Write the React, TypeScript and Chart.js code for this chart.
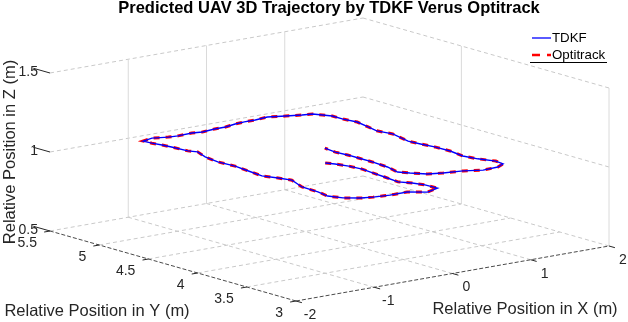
import React, { useEffect, useRef } from "react";
import { Chart, registerables } from "chart.js";

Chart.register(...registerables);

// ---------------- data ----------------
const TITLE = "Predicted UAV 3D Trajectory by TDKF Verus Optitrack";
const X_LABEL = "Relative Position in X (m)";
const Y_LABEL = "Relative Position in Y (m)";
const Z_LABEL = "Relative Position in Z (m)";
const SERIES_NAMES = ["TDKF", "Optitrack"];

const X_TICKS = [-2, -1, 0, 1, 2];
const Y_TICKS = [3, 3.5, 4, 4.5, 5, 5.5];
const Z_TICKS = [0.5, 1, 1.5];
const X_TICK_LABELS = ["-2", "-1", "0", "1", "2"];
const Y_TICK_LABELS = ["3", "3.5", "4", "4.5", "5", "5.5"];
const Z_TICK_LABELS = ["0.5", "1", "1.5"];

// grid lines that MATLAB shows on the right wall (x = max)
const RIGHT_WALL_Y_GRID = [4.5, 3];

const TRAJ_X = [
  -0.13, -0.08, -0.03, -0.01, -0.03, -0.05, -0.08, 0.0, 0.05, 0.06,
  -0.13, -0.29, -0.51, -0.7, -0.83, -0.96, -1.03, -0.99, -0.98, -0.87,
  -0.92, -0.99, -0.96, -0.93, -0.95, -0.91, -0.83, -0.88, -0.9, -0.92,
  -0.95, -0.96, -0.81, -0.65, -0.54, -0.35, -0.24, -0.06, 0.08, 0.24,
  0.37, 0.51, 0.69, 0.86, 1.02, 1.13, 1.18, 1.23, 1.23, 1.26,
  1.21, 1.17, 1.21, 1.13, 1.15, 1.18, 1.19, 1.15, 1.19, 1.27,
  1.25, 1.12, 0.92, 0.74, 0.52, 0.37, 0.26, 0.19, 0.25, 0.27,
  0.27, 0.27, 0.25, 0.28,
];
const TRAJ_Y = [
  4.19, 4.13, 4.03, 3.91, 3.78, 3.65, 3.49, 3.41, 3.32, 3.2,
  3.15, 3.23, 3.23, 3.25, 3.28, 3.35, 3.45, 3.58, 3.75, 3.94,
  4.04, 4.15, 4.31, 4.47, 4.63, 4.79, 4.93, 4.99, 5.14, 5.22,
  5.3, 5.38, 5.41, 5.37, 5.36, 5.37, 5.35, 5.37, 5.37, 5.4,
  5.41, 5.41, 5.43, 5.38, 5.34, 5.32, 5.26, 5.2, 5.09, 4.97,
  4.82, 4.7, 4.57, 4.35, 4.24, 4.12, 3.97, 3.81, 3.69, 3.57,
  3.48, 3.43, 3.42, 3.48, 3.51, 3.55, 3.64, 3.71, 3.86, 4.03,
  4.17, 4.28, 4.39, 4.52,
];
const TRAJ_Z = [
  1.0, 1.0, 1.0, 1.0, 1.0, 1.0, 1.0, 1.0, 1.0, 1.0,
  1.0, 1.0, 1.0, 1.0, 1.0, 1.0, 1.0, 1.0, 1.0, 1.0,
  1.0, 1.0, 1.0, 1.0, 1.0, 1.0, 1.0, 1.0, 1.0, 1.0,
  1.0, 1.0, 1.0, 1.0, 1.0, 1.0, 1.0, 1.0, 1.0, 1.0,
  1.0, 1.0, 1.0, 1.0, 1.0, 1.0, 1.0, 1.0, 1.0, 1.0,
  1.0, 1.0, 1.0, 1.0, 1.0, 1.0, 1.0, 1.0, 1.0, 1.0,
  1.0, 1.0, 1.0, 1.0, 1.0, 1.0, 1.0, 1.0, 1.0, 1.0,
  1.0, 1.0, 1.0, 1.0,
];
// Optitrack reference follows the same path at this scale
const OPTI_X = TRAJ_X;
const OPTI_Y = TRAJ_Y;
const OPTI_Z = TRAJ_Z;

// ---------------- layout / projection ----------------
const W = 628;
const H = 322;
const X0 = X_TICKS[0], X1 = X_TICKS[X_TICKS.length - 1];
const Y0 = Y_TICKS[0], Y1 = Y_TICKS[Y_TICKS.length - 1];
const Z0 = Z_TICKS[0], Z1 = Z_TICKS[Z_TICKS.length - 1];

const CF = [296, 301]; // pixel of (xmin, ymin, zmin)
const CX = [609, 246]; // pixel of (xmax, ymin, zmin)
const CY = [50, 231]; // pixel of (xmin, ymax, zmin)
const Z_PX = 158; // pixels for zmin..zmax

type P = { x: number; y: number };
function project(x: number, y: number, z: number): P {
  const a = (x - X0) / (X1 - X0);
  const b = (y - Y0) / (Y1 - Y0);
  const c = (z - Z0) / (Z1 - Z0);
  return {
    x: CF[0] + a * (CX[0] - CF[0]) + b * (CY[0] - CF[0]),
    y: CF[1] + a * (CX[1] - CF[1]) + b * (CY[1] - CF[1]) - c * Z_PX,
  };
}

const GRID_DASH_COLOR = "#c9c9c9";
const GRID_SOLID_COLOR = "#dadada";
const AXIS_COLOR = "#4a4a4a";
const TEXT_COLOR = "#262626";
const FONT = "'Liberation Sans', Arial, Helvetica, sans-serif";

function segment(
  p: [number, number, number],
  q: [number, number, number],
  color: string,
  width: number,
  dash: number[],
  order: number
) {
  return {
    data: [project(p[0], p[1], p[2]), project(q[0], q[1], q[2])],
    showLine: true,
    borderColor: color,
    borderWidth: width,
    borderDash: dash,
    pointRadius: 0,
    pointHoverRadius: 0,
    order,
    tension: 0,
    clip: false as any,
  };
}

function buildGrid() {
  const ds: any[] = [];
  const dash = [4, 3];
  // floor: constant-x lines
  X_TICKS.slice(1).forEach((x) =>
    ds.push(segment([x, Y0, Z0], [x, Y1, Z0], GRID_DASH_COLOR, 1, dash, 5))
  );
  // floor: constant-y lines
  Y_TICKS.slice(1).forEach((y) =>
    ds.push(segment([X0, y, Z0], [X1, y, Z0], GRID_DASH_COLOR, 1, dash, 5))
  );
  // back wall (y = max): verticals + horizontals
  X_TICKS.slice(1, -1).forEach((x) =>
    ds.push(segment([x, Y1, Z0], [x, Y1, Z1], GRID_SOLID_COLOR, 1, [], 5))
  );
  Z_TICKS.slice(1).forEach((z) =>
    ds.push(segment([X0, Y1, z], [X1, Y1, z], GRID_DASH_COLOR, 1, dash, 5))
  );
  // right wall (x = max)
  RIGHT_WALL_Y_GRID.forEach((y) =>
    ds.push(segment([X1, y, Z0], [X1, y, Z1], GRID_SOLID_COLOR, 1, [], 5))
  );
  Z_TICKS.slice(1).forEach((z) =>
    ds.push(segment([X1, Y0, z], [X1, Y1, z], GRID_DASH_COLOR, 1, dash, 5))
  );
  // axis lines
  ds.push(segment([X0, Y0, Z0], [X0, Y1, Z0], AXIS_COLOR, 1, [4, 2], 4));
  ds.push(segment([X0, Y0, Z0], [X1, Y0, Z0], AXIS_COLOR, 1, [4, 2], 4));
  return ds;
}

function pathData(xs: number[], ys: number[], zs: number[]) {
  return xs.map((x, i) => project(x, ys[i], zs[i]));
}

const overlayPlugin = {
  id: "overlay3d",
  afterDraw(chart: any) {
    const ctx: CanvasRenderingContext2D = chart.ctx;
    const sx = chart.scales.x;
    const sy = chart.scales.y;
    const px = (p: P) => ({ x: sx.getPixelForValue(p.x), y: sy.getPixelForValue(p.y) });
    const line = (a: P, b: P) => {
      ctx.beginPath();
      ctx.moveTo(a.x, a.y);
      ctx.lineTo(b.x, b.y);
      ctx.stroke();
    };
    ctx.save();
    // tick marks
    ctx.strokeStyle = TEXT_COLOR;
    ctx.lineWidth = 1;
    ctx.setLineDash([]);
    Z_TICKS.forEach((z) => line(px(project(X0, Y1, z)), px(project(X0, Y1 + 0.17, z))));
    Y_TICKS.forEach((y) => line(px(project(X0, y, Z0)), px(project(X0 - 0.075, y, Z0))));
    X_TICKS.forEach((x) => line(px(project(x, Y0, Z0)), px(project(x, Y0 - 0.06, Z0))));

    // tick labels
    ctx.fillStyle = TEXT_COLOR;
    ctx.font = `14px ${FONT}`;
    ctx.textBaseline = "middle";
    ctx.textAlign = "right";
    Z_TICKS.forEach((z, i) => {
      const p = px(project(X0, Y1, z));
      ctx.fillText(Z_TICK_LABELS[i], p.x - 12, p.y - 1);
    });
    Y_TICKS.forEach((y, i) => {
      const p = px(project(X0, y, Z0));
      ctx.fillText(Y_TICK_LABELS[i], p.x - 13, p.y + 12);
    });
    ctx.textAlign = "center";
    X_TICKS.forEach((x, i) => {
      const p = px(project(x, Y0, Z0));
      ctx.fillText(X_TICK_LABELS[i], p.x + 14, p.y + 14);
    });

    // axis labels
    ctx.font = `16.5px ${FONT}`;
    ctx.fillText(X_LABEL, sx.getPixelForValue(525), sy.getPixelForValue(309));
    ctx.fillText(Y_LABEL, sx.getPixelForValue(97), sy.getPixelForValue(311));
    ctx.save();
    ctx.translate(sx.getPixelForValue(10), sy.getPixelForValue(152));
    ctx.rotate(-Math.PI / 2);
    ctx.fillText(Z_LABEL, 0, 0);
    ctx.restore();

    // title
    ctx.fillStyle = "#000";
    ctx.font = `bold 16.5px ${FONT}`;
    ctx.fillText(TITLE, sx.getPixelForValue(329), sy.getPixelForValue(8));

    // legend
    const lx0 = sx.getPixelForValue(532);
    const lx1 = sx.getPixelForValue(551);
    const r1 = sy.getPixelForValue(38);
    const r2 = sy.getPixelForValue(55);
    ctx.strokeStyle = "#0000ff";
    ctx.lineWidth = 1.3;
    line({ x: lx0, y: r1 }, { x: lx1, y: r1 });
    ctx.strokeStyle = "#ff0000";
    ctx.lineWidth = 2.5;
    ctx.setLineDash([8, 7]);
    line({ x: lx0, y: r2 }, { x: lx1, y: r2 });
    ctx.setLineDash([]);
    ctx.strokeStyle = "#000";
    ctx.lineWidth = 1;
    line(
      { x: sx.getPixelForValue(530), y: sy.getPixelForValue(62.5) },
      { x: sx.getPixelForValue(607), y: sy.getPixelForValue(62.5) }
    );
    ctx.fillStyle = "#000";
    ctx.font = `13.3px ${FONT}`;
    ctx.textAlign = "left";
    ctx.fillText(SERIES_NAMES[0], lx1 + 1, r1);
    ctx.fillText(SERIES_NAMES[1], lx1 + 1, r2);
    ctx.restore();
  },
};

export default function App() {
  const ref = useRef<HTMLCanvasElement | null>(null);
  useEffect(() => {
    document.body.style.margin = "0";
    const canvas = ref.current;
    if (!canvas) return;
    const datasets: any[] = [
      {
        label: SERIES_NAMES[0],
        data: pathData(TRAJ_X, TRAJ_Y, TRAJ_Z),
        showLine: true,
        borderColor: "#0000ff",
        borderWidth: 1.4,
        pointRadius: 0,
        order: 0,
        tension: 0,
      },
      {
        label: SERIES_NAMES[1],
        data: pathData(OPTI_X, OPTI_Y, OPTI_Z),
        showLine: true,
        borderColor: "#ff0000",
        borderWidth: 3,
        borderDash: [6, 6],
        pointRadius: 0,
        order: 1,
        tension: 0,
      },
      ...buildGrid(),
    ];
    const chart = new Chart(canvas, {
      type: "scatter",
      data: { datasets },
      options: {
        animation: false,
        responsive: false,
        maintainAspectRatio: false,
        events: [],
        layout: { padding: 0 },
        plugins: { legend: { display: false }, tooltip: { enabled: false }, title: { display: false } },
        scales: {
          x: { type: "linear", min: 0, max: W, display: false },
          y: { type: "linear", min: 0, max: H, reverse: true, display: false },
        },
      },
      plugins: [overlayPlugin],
    });
    return () => chart.destroy();
  }, []);
  return (
    <div style={{ width: W, height: H, position: "relative", background: "#fff" }}>
      <canvas ref={ref} width={W} height={H} style={{ display: "block" }} />
    </div>
  );
}
